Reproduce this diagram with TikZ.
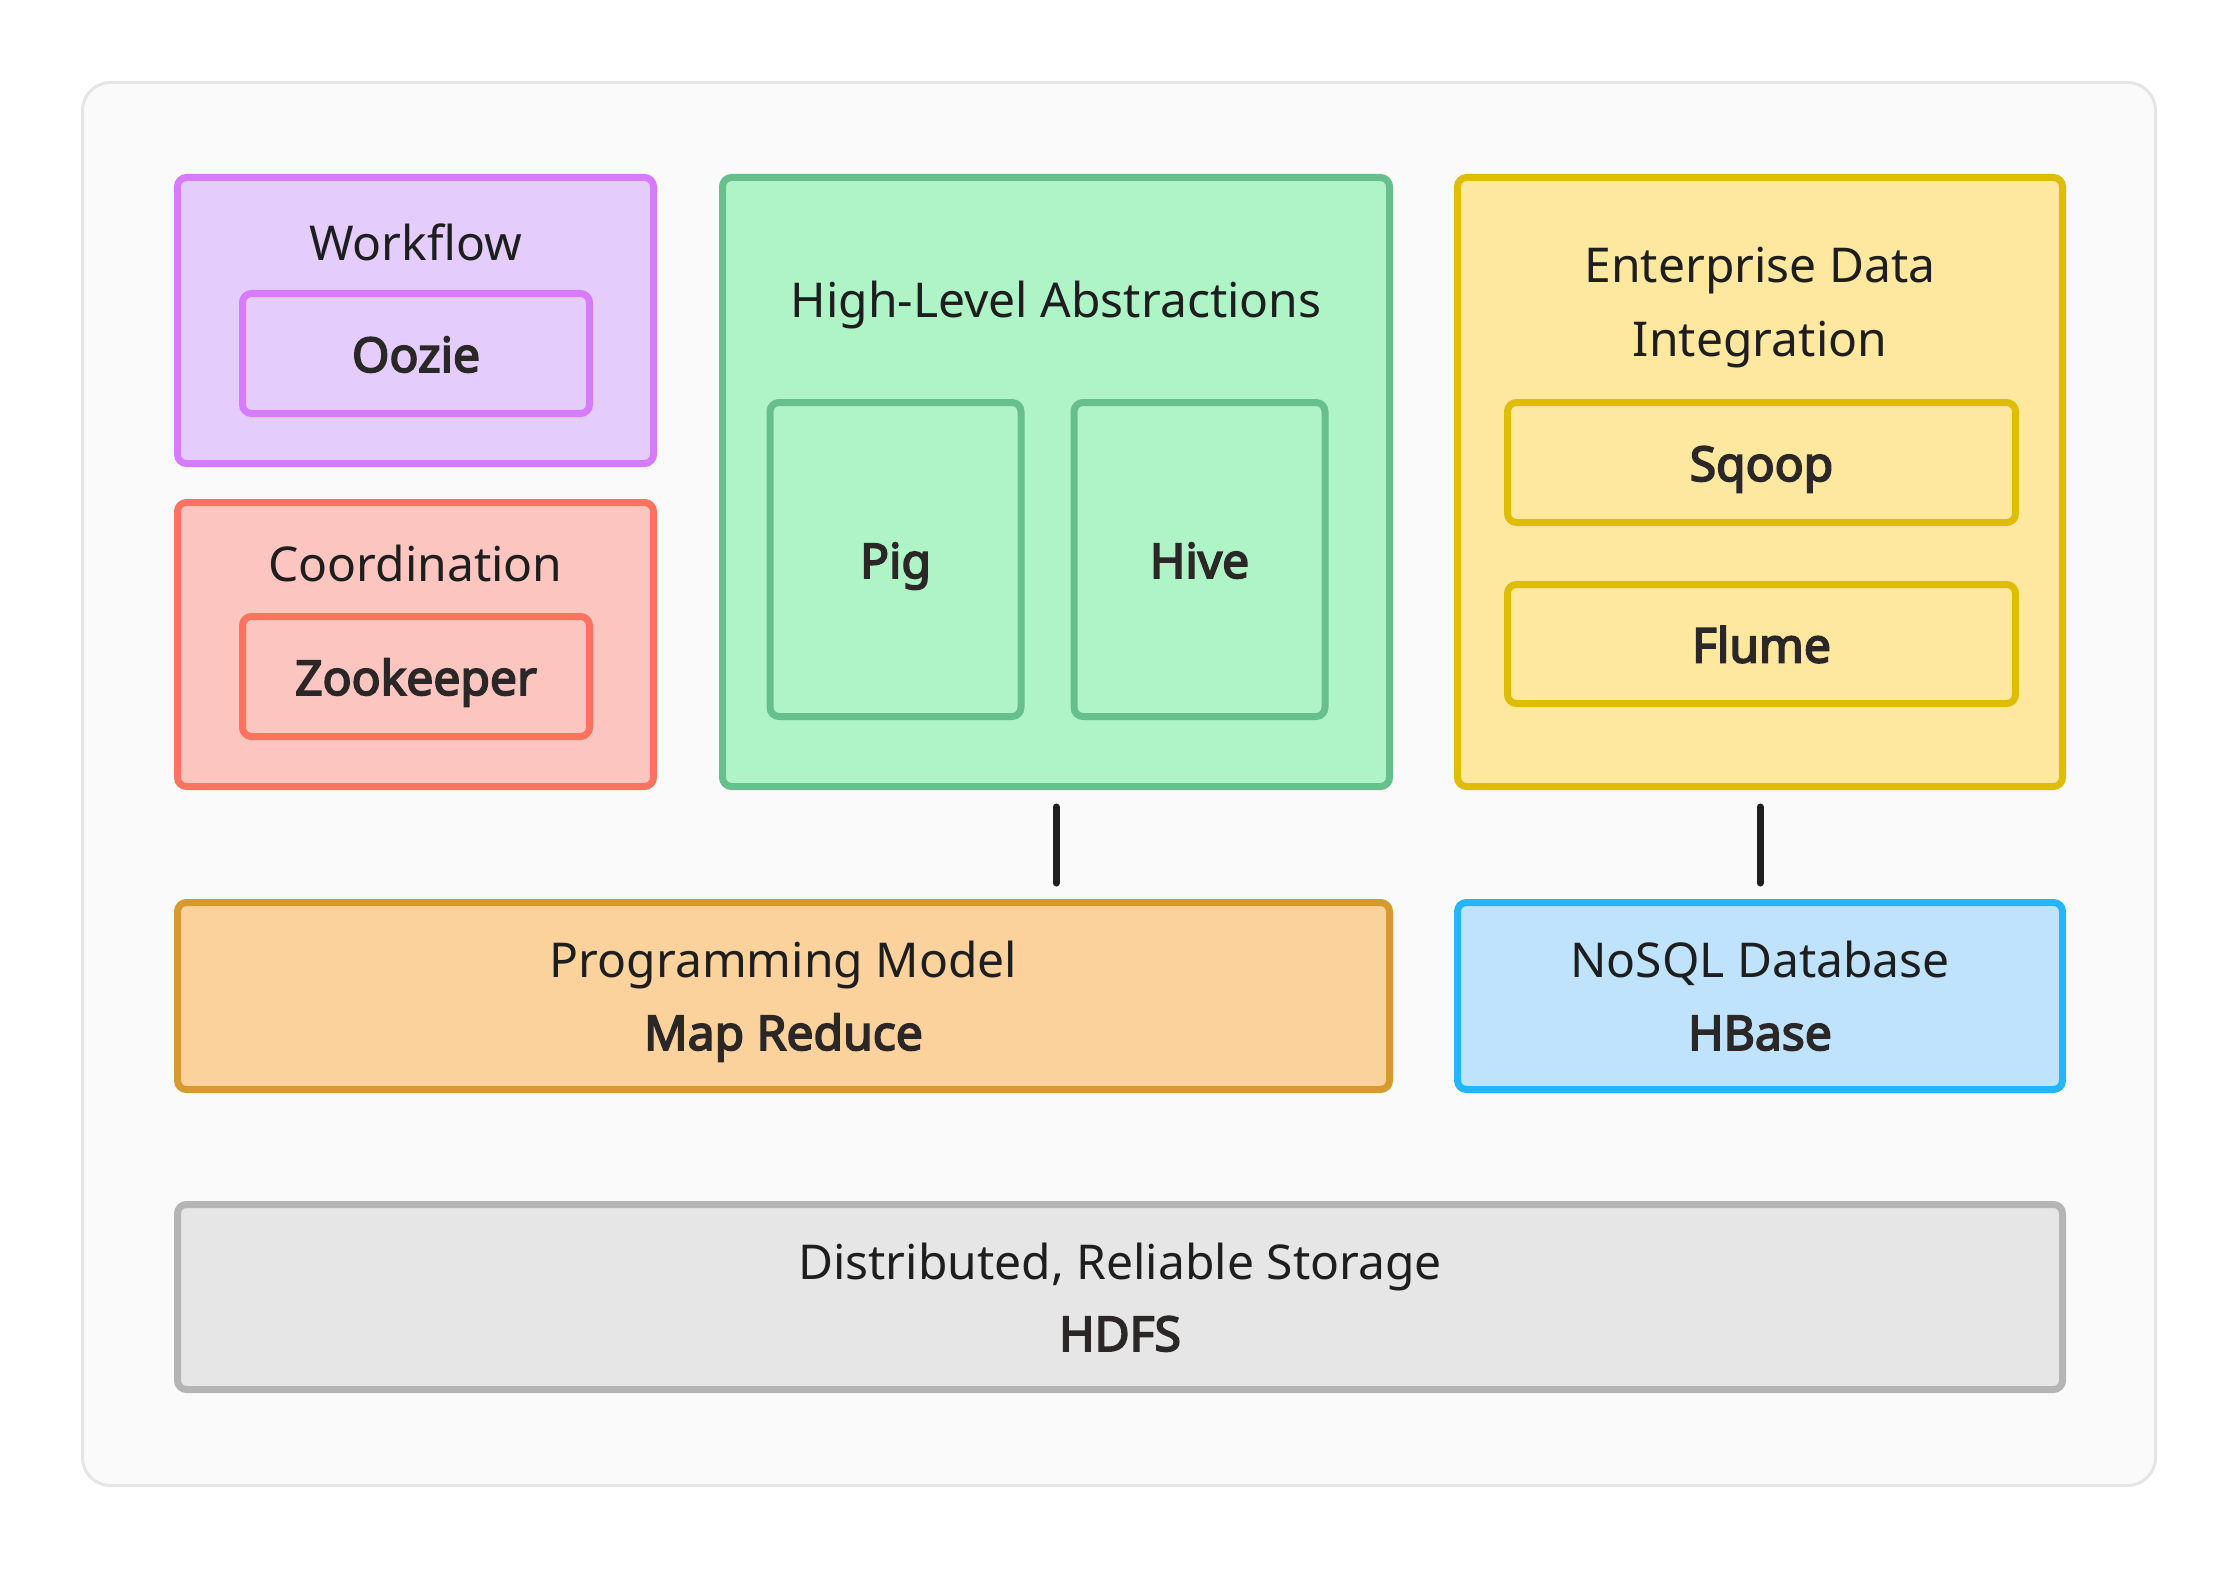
\documentclass[tikz,border=0pt]{standalone}
\usepackage{fontspec}
\setmainfont{Noto Sans}
\newfontfamily\heavy{Noto Sans}[FakeBold=3.6]
\usetikzlibrary{positioning}
\definecolor{wfFill}{HTML}{E4CCFD}
\definecolor{wfLine}{HTML}{D67BFA}
\definecolor{coFill}{HTML}{FDC5C0}
\definecolor{coLine}{HTML}{FD735F}
\definecolor{hlFill}{HTML}{AFF4C6}
\definecolor{hlLine}{HTML}{66BF8C}
\definecolor{eiFill}{HTML}{FEE79E}
\definecolor{eiLine}{HTML}{DFBD00}
\definecolor{mrFill}{HTML}{FBD19C}
\definecolor{mrLine}{HTML}{D69A2E}
\definecolor{dbFill}{HTML}{BFE3FC}
\definecolor{dbLine}{HTML}{25B5FF}
\definecolor{fsFill}{HTML}{E6E6E6}
\definecolor{fsLine}{HTML}{B5B5B5}
\definecolor{panelFill}{HTML}{FAFAFA}
\definecolor{panelLine}{HTML}{E5E5E5}
\definecolor{ink}{HTML}{1E1E1E}
\definecolor{inkDark}{HTML}{2B2727}

\begin{document}
\begin{tikzpicture}[x=1pt, y=-1pt,
  box/.style={rectangle, rounded corners=9pt, line width=7pt, inner sep=0pt},
  tool/.style={box, font=\fontsize{48}{58}\heavy, text=inkDark, text height=37pt, text depth=0pt},
  caption/.style={anchor=base, inner sep=0pt, text=ink, font=\fontsize{48}{58}\selectfont},
  strong/.style={caption, text=inkDark, font=\fontsize{48}{58}\heavy},
  link/.style={line width=7pt, line cap=round, draw=ink, shorten <=17pt, shorten >=16pt}]
  \useasboundingbox[fill=white] (0,0) rectangle (2240,1570);
  \node[rectangle, rounded corners=28pt, line width=3pt, fill=panelFill, draw=panelLine,
        minimum width=2073pt, minimum height=1403pt] (panel) at (1119,784) {};

  \node[box, fill=wfFill, draw=wfLine, minimum width=476pt, minimum height=286pt] (workflow) at (415.5,320.5) {};
  \node[caption] (workflowT) at (415.5,261) {Workflow};
  \node[tool, fill=wfFill, draw=wfLine, minimum width=347pt, minimum height=120pt] (oozie) at (416,353.5) {Oozie};

  \node[box, fill=coFill, draw=coLine, minimum width=476pt, minimum height=284pt] (coord) at (415.5,644.5) {};
  \node[caption] (coordT) at (415.5,581) {Coordination};
  \node[tool, fill=coFill, draw=coLine, minimum width=347pt, minimum height=120pt] (zookeeper) at (416,676.5) {Zookeeper};

  \node[box, fill=hlFill, draw=hlLine, minimum width=667pt, minimum height=609pt] (hla) at (1056,482) {};
  \node[caption] (hlaT) at (1056,317) {High-Level Abstractions};
  \node[tool, fill=hlFill, draw=hlLine, minimum width=251pt, minimum height=314pt] (pig) at (895.5,559.5) {Pig};
  \node[tool, fill=hlFill, draw=hlLine, minimum width=251pt, minimum height=314pt] (hive) at (1199.5,559.5) {Hive};

  \node[box, fill=eiFill, draw=eiLine, minimum width=605pt, minimum height=609pt] (eid) at (1760,482) {};
  \node[caption] (eidT) at (1760,283) {Enterprise Data};
  \node[caption] (eidT2) at (1760,356) {Integration};
  \node[tool, fill=eiFill, draw=eiLine, minimum width=508pt, minimum height=120pt] (sqoop) at (1761.5,462.5) {Sqoop};
  \node[tool, fill=eiFill, draw=eiLine, minimum width=508pt, minimum height=119pt] (flume) at (1761.5,644) {Flume};

  \node[box, fill=mrFill, draw=mrLine, minimum width=1212pt, minimum height=187pt] (mapred) at (783.5,996) {};
  \node[caption] (mapredT) at (783.5,977) {Programming Model};
  \node[strong] (mapredN) at (783.5,1050) {Map Reduce};

  \node[box, fill=dbFill, draw=dbLine, minimum width=605pt, minimum height=187pt] (nosql) at (1760,996) {};
  \node[caption] (nosqlT) at (1760,977) {NoSQL Database};
  \node[strong] (nosqlN) at (1760,1050) {HBase};

  \node[box, fill=fsFill, draw=fsLine, minimum width=1885pt, minimum height=185pt] (hdfs) at (1120,1297) {};
  \node[caption] (hdfsT) at (1120,1279) {Distributed, Reliable Storage};
  \node[strong] (hdfsN) at (1120,1351) {HDFS};

  \draw[link] (hla.south) -- (hla.south |- mapred.north);
  \draw[link] (eid.south) -- (nosql.north);
\end{tikzpicture}
\end{document}
